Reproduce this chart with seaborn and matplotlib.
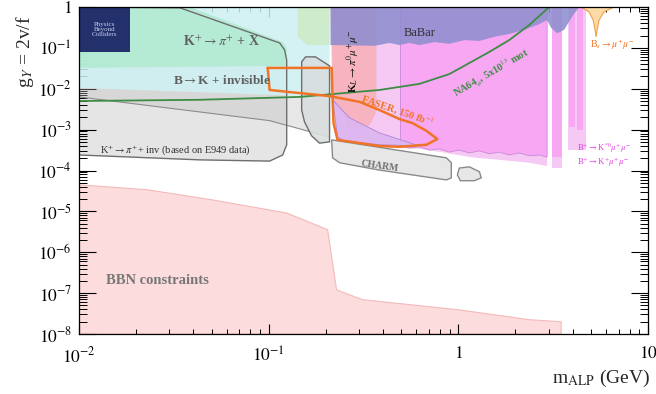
import numpy as np
import pandas as pd
import matplotlib
matplotlib.use("Agg")
import matplotlib.pyplot as plt
import seaborn as sns
from matplotlib.ticker import FixedLocator, FixedFormatter, NullFormatter
from matplotlib.patches import Rectangle

# ---------------- data: log10(m_ALP / GeV), log10(g_Y) ----------------
BBN_LOGM = [-2.0, -1.642, -1.295, -0.905, -0.689, -0.642, -0.505, 0.005, 0.374, 0.542, 0.542, -2.0]
BBN_LOGG = [-4.35, -4.47, -4.72, -5.04, -5.45, -6.92, -7.16, -7.41, -7.65, -7.70, -8.0, -8.0]

E949_LOGM = [-2.0, -1.468, -0.942, -0.916, -0.905, -0.905, -0.926, -0.995, -1.363, -2.0]
E949_LOGG = [0.0, -0.02, -0.88, -1.05, -1.30, -3.37, -3.62, -3.77, -3.74, -3.62]

BAND_LOGM = [-2.0, -0.679, -0.679, -0.995, -2.0]
BAND_LOGG = [-1.98, -2.20, -3.18, -2.78, -2.20]

BKINV_LOGM = [-2.0, -0.679, -0.679, -2.0]
BKINV_LOGG = [0.0, 0.0, -2.20, -1.98]

KPIX_LOGM = [-2.0, -1.416, -0.926, -0.905, -0.905, -2.0]
KPIX_LOGG = [0.0, 0.0, -0.856, -1.0, -1.44, -1.49]

HEX_LOGM = [-0.847, -0.679, -0.679, -0.795, -0.847]
HEX_LOGG = [0.0, 0.0, -0.93, -0.93, -0.73]

GRAY2_LOGM = [-0.826, -0.805, -0.753, -0.679, -0.679, -0.732, -0.774, -0.811, -0.826]
GRAY2_LOGG = [-1.34, -1.22, -1.22, -1.44, -3.30, -3.33, -3.15, -2.81, -2.52]

BKMU_LOGM = [-0.663, 0.468, 0.468, 0.374, 0.216, 0.058, -0.063, -0.205, -0.311, -0.468, -0.60, -0.637, -0.663]
BKMU_LOGG = [0.0, 0.0, -3.89, -3.81, -3.74, -3.67, -3.57, -3.47, -3.45, -3.40, -3.30, -3.20, -2.27]

BKSTAR_LOGM = [-0.305, 0.468, 0.468, 0.426, 0.374, 0.321, 0.268, 0.216, 0.163, 0.111, 0.058,
               0.005, -0.047, -0.10, -0.153, -0.205, -0.258, -0.305]
BKSTAR_LOGG = [0.0, 0.0, -3.67, -3.62, -3.64, -3.57, -3.62, -3.55, -3.59, -3.52, -3.57,
               -3.50, -3.55, -3.47, -3.50, -3.42, -3.45, -3.40]

STRIP1_LOGM = [0.495, 0.547]
STRIP1_LOGG_DARK = -3.67
STRIP1_LOGG_LIGHT = -3.94
STRIP2_LOGM = [0.584, 0.616]
STRIP2_LOGG = -2.93
STRIP3_LOGM = [0.626, 0.658]
STRIP3_LOGG = -3.00
STRIP4_LOGM = [0.579, 0.674]
STRIP4_LOGG = -3.50

KL_LOGM = [-0.674, -0.432, -0.432, -0.468, -0.521, -0.589, -0.605, -0.637, -0.663]
KL_LOGG = [0.0, 0.0, -2.57, -2.89, -2.96, -2.96, -2.64, -2.47, -2.27]

LAV_LOGM = [-0.663, -0.574, -0.416, -0.205, -0.416, -0.60, -0.637]
LAV_LOGG = [-2.27, -2.71, -3.08, -3.40, -3.37, -3.28, -3.18]

BABAR_LOGM = [-0.674, -0.674, -0.442, -0.363, -0.311, -0.258, -0.205, -0.126, -0.047, 0.032,
              0.111, 0.189, 0.268, 0.347, 0.426, 0.468, 0.489, 0.521, 0.558, 0.595, 0.637]
BABAR_LOGG = [0.0, -0.93, -0.95, -0.88, -0.93, -0.88, -0.93, -0.86, -0.90, -0.81,
              -0.83, -0.73, -0.66, -0.56, -0.42, -0.32, -0.51, -0.64, -0.56, -0.27, 0.0]

BS_LOGM = [0.647, 0.689, 0.711, 0.721, 0.726, 0.732, 0.742, 0.768, 0.821]
BS_LOGG = [0.0, -0.12, -0.32, -0.56, -0.73, -0.56, -0.32, -0.12, 0.0]

CHARM_LOGM = [-0.668, -0.063, -0.037, -0.037, -0.063, -0.416, -0.626, -0.663]
CHARM_LOGG = [-3.25, -3.69, -3.81, -4.18, -4.23, -3.99, -3.81, -3.69]

CHARM2_LOGM = [0.005, 0.058, 0.111, 0.121, 0.084, 0.011, -0.005]
CHARM2_LOGG = [-3.94, -3.91, -4.03, -4.18, -4.25, -4.25, -4.11]

NA64_LOGM = [-2.0, -1.363, -0.837, -0.416, -0.205, -0.047, 0.058, 0.163, 0.268, 0.374, 0.479]
NA64_LOGG = [-2.30, -2.27, -2.20, -2.03, -1.88, -1.64, -1.37, -1.10, -0.81, -0.44, 0.0]

FASER_LOGM = [-1.005, -0.668, -0.663, -0.658, -0.637, -0.416, -0.311, -0.168, -0.111, -0.168,
              -0.242, -0.311, -0.416, -0.521, -0.679, -0.995, -1.005]
FASER_LOGG = [-1.49, -1.49, -2.27, -2.84, -3.25, -3.40, -3.42, -3.37, -3.23, -3.03,
              -2.84, -2.74, -2.52, -2.32, -2.18, -2.03, -1.49]

X_TICKS = [0.01, 0.1, 1, 10]
X_TICK_LABELS = [r"$10^{-2}$", r"$10^{-1}$", r"$1$", r"$10$"]
Y_TICKS = [1e-8, 1e-7, 1e-6, 1e-5, 1e-4, 1e-3, 1e-2, 1e-1, 1]
Y_TICK_LABELS = [r"$10^{-8}$", r"$10^{-7}$", r"$10^{-6}$", r"$10^{-5}$", r"$10^{-4}$",
                 r"$10^{-3}$", r"$10^{-2}$", r"$10^{-1}$", r"$1$"]
X_DECADES = [-2, -1, 0]
Y_DECADES = [-8, -7, -6, -5, -4, -3, -2, -1]
MINOR_SUBS = [2, 3, 4, 5, 6, 7, 8, 9]

# ---------------- style ----------------
sns.set_style("ticks")
plt.rcParams["font.family"] = ["Liberation Serif", "DejaVu Serif"]
plt.rcParams["mathtext.fontset"] = "stix"

fig = plt.figure(figsize=(6.56, 3.94), dpi=100)
ax = fig.add_axes([79 / 656, 1 - 334 / 394, 569 / 656, 327 / 394])
ax.set_xscale("log")
ax.set_yscale("log")
ax.set_xlim(1e-2, 10)
ax.set_ylim(1e-8, 1)


def P(lm, lg):
    return np.power(10.0, np.array(lm)), np.power(10.0, np.array(lg))


def poly(lm, lg, fc, ec="none", lw=0.8, alpha=1.0, z=1):
    x, y = P(lm, lg)
    ax.fill(x, y, facecolor=fc, edgecolor="none", alpha=alpha, zorder=z)
    if ec != "none":
        ax.fill(x, y, facecolor="none", edgecolor=ec, lw=lw, zorder=z + 0.5)


def strip(lm, lg_bottom, fc, alpha=1.0, z=1):
    poly([lm[0], lm[1], lm[1], lm[0]], [0.0, 0.0, lg_bottom, lg_bottom], fc, alpha=alpha, z=z)


poly(BBN_LOGM, BBN_LOGG, "#fcdcdc", ec="#f3baba", lw=0.8, z=1)
poly(E949_LOGM, E949_LOGG, "#e5e5e5", z=2)
poly(BKINV_LOGM, BKINV_LOGG, "#cdeff1", alpha=0.85, z=3)
poly(KPIX_LOGM, KPIX_LOGG, "#b2ebd2", alpha=0.9, z=4)
poly(BAND_LOGM, BAND_LOGG, "#bdbdbd", alpha=0.35, z=4)
x, y = P(BAND_LOGM[2:], BAND_LOGG[2:])
ax.plot(x, y, color="#8c8c8c", lw=0.8, zorder=4.5)
poly(HEX_LOGM, HEX_LOGG, "#cdeccb", z=5)
poly(GRAY2_LOGM, GRAY2_LOGG, "#d9dede", ec="#6e6e6e", lw=1.0, alpha=0.9, z=5)
poly(E949_LOGM, E949_LOGG, "none", ec="#6e6e6e", lw=1.0, z=5)

poly(BKMU_LOGM, BKMU_LOGG, "#f6c9f4", z=6)
poly(BKSTAR_LOGM, BKSTAR_LOGG, "#f8a7f3", ec="#c888d8", lw=0.6, z=7)
strip(STRIP1_LOGM, STRIP1_LOGG_LIGHT, "#f6c9f4", z=6)
strip(STRIP1_LOGM, STRIP1_LOGG_DARK, "#f8a7f3", z=7)
strip(STRIP4_LOGM, STRIP4_LOGG, "#f6c9f4", z=6)
strip(STRIP2_LOGM, STRIP2_LOGG, "#f8a7f3", z=7)
strip(STRIP3_LOGM, STRIP3_LOGG, "#f8a7f3", z=7)
poly(KL_LOGM, KL_LOGG, "#f8b2bb", alpha=0.9, z=8)
poly(LAV_LOGM, LAV_LOGG, "#dcb6f0", ec="#b48ad8", lw=0.7, alpha=0.9, z=8)
poly(BABAR_LOGM, BABAR_LOGG, "#8e8ecf", alpha=0.88, z=9)
poly(BS_LOGM, BS_LOGG, "#fcdba8", ec="#f0a048", lw=0.8, z=9)
poly(CHARM_LOGM, CHARM_LOGG, "#e7e7e7", ec="#8a8a8a", lw=1.0, z=9)
poly(CHARM2_LOGM, CHARM2_LOGG, "#e7e7e7", ec="#8a8a8a", lw=1.0, z=9)

na64 = pd.DataFrame({"m": np.power(10.0, NA64_LOGM), "g": np.power(10.0, NA64_LOGG)})
sns.lineplot(data=na64, x="m", y="g", sort=False, estimator=None, color="#3d8c44",
             lw=1.3, ax=ax, zorder=11, legend=False)
faser = pd.DataFrame({"m": np.power(10.0, FASER_LOGM), "g": np.power(10.0, FASER_LOGG)})
sns.lineplot(data=faser, x="m", y="g", sort=False, estimator=None, color="#f07426",
             lw=1.8, ax=ax, zorder=12, legend=False)

# ---------------- labels inside ----------------
tk = dict(fontweight="bold", zorder=15)
ax.text(0.0566, 0.139, r"K$^{+}\rightarrow\pi^{+}$ + X", color="#606060", fontsize=10,
        ha="center", va="center", **tk)
ax.text(0.0566, 0.0155, r"B$\rightarrow$K + invisible", color="#606060", fontsize=9.5,
        ha="center", va="center", **tk)
ax.text(0.0324, 3.2e-4, r"K$^{+}\rightarrow\pi^{+}$+ inv (based on E949 data)", color="#333333",
        fontsize=7.5, ha="center", va="center", zorder=15)
ax.text(0.384, 1.3e-4, "CHARM", color="#707070", fontsize=7, rotation=-8,
        ha="center", va="center", **tk)
ax.text(0.623, 0.231, "BaBar", color="#303030", fontsize=9, ha="center", va="center", zorder=15)
ax.text(0.281, 0.046, r"K$_{L}\rightarrow\pi^{0}\mu^{+}\mu^{-}$", color="#111111", fontsize=8,
        rotation=90, ha="center", va="center", **tk)
ax.text(0.48, 2.9e-3, r"FASER, 150 fb$^{-1}$", color="#f07426", fontsize=7.5, rotation=-19,
        ha="center", va="center", **tk)
ax.text(1.49, 0.0245, r"NA64$_{\mu}$, 5x10$^{13}$ mot", color="#3d8c44", fontsize=7.5,
        rotation=30, ha="center", va="center", **tk)
ax.text(0.0258, 2.0e-7, "BBN constraints", color="#777777", fontsize=10.5,
        ha="center", va="center", **tk)
ax.text(6.47, 0.117, r"B$_{s}\rightarrow\mu^{+}\mu^{-}$", color="#f07426", fontsize=7,
        ha="center", va="center", zorder=15)
ax.text(4.22, 3.4e-4, r"B$^{+}\rightarrow$K$^{*0}\mu^{+}\mu^{-}$", color="#e040e0", fontsize=6.2,
        ha="left", va="center", zorder=15)
ax.text(4.22, 1.55e-4, r"B$^{+}\rightarrow$K$^{+}\mu^{+}\mu^{-}$", color="#e040e0", fontsize=6.2,
        ha="left", va="center", zorder=15)

# logo (Physics Beyond Colliders)
ax.add_patch(Rectangle((0.0, 0.862), 0.09, 0.138, transform=ax.transAxes,
                       facecolor="#22306c", edgecolor="none", zorder=16))
ax.text(0.045, 0.93, "Physics\nBeyond\nColliders", transform=ax.transAxes, color="#c8d0ee",
        fontsize=5, ha="center", va="center", linespacing=1.0, zorder=17)

# ---------------- axes ----------------
x_minor = [k * 10.0 ** e for e in X_DECADES for k in MINOR_SUBS]
y_minor = [k * 10.0 ** e for e in Y_DECADES for k in MINOR_SUBS]
ax.xaxis.set_major_locator(FixedLocator(X_TICKS))
ax.xaxis.set_major_formatter(FixedFormatter(X_TICK_LABELS))
ax.yaxis.set_major_locator(FixedLocator(Y_TICKS))
ax.yaxis.set_major_formatter(FixedFormatter(Y_TICK_LABELS))
ax.xaxis.set_minor_locator(FixedLocator(x_minor))
ax.yaxis.set_minor_locator(FixedLocator(y_minor))
ax.xaxis.set_minor_formatter(NullFormatter())
ax.yaxis.set_minor_formatter(NullFormatter())
ax.tick_params(which="both", direction="in", top=True, right=True, bottom=True, left=True,
               width=0.8, colors="black")
ax.tick_params(which="major", labelsize=12.5)
ax.tick_params(axis="x", which="major", length=7.5, pad=9)
ax.tick_params(axis="x", which="minor", length=3.8, width=0.7)
ax.tick_params(axis="y", which="major", length=12, pad=5)
ax.tick_params(axis="y", which="minor", length=6, width=0.7)
ax.set_axisbelow(False)
for s in ax.spines.values():
    s.set_linewidth(0.9)
    s.set_color("black")
    s.set_zorder(20)
ax.set_xlabel("")
ax.set_ylabel("")

fig.text(25 / 656, 1 - 52 / 394, r"g$_{Y}$ = 2v/f", rotation=90, fontsize=14,
         ha="center", va="center")
fig.text(650 / 656, 1 - 378 / 394, r"m$_{\rm ALP}$ (GeV)", fontsize=14, ha="right", va="center")

fig.savefig("out.png", dpi=100)
